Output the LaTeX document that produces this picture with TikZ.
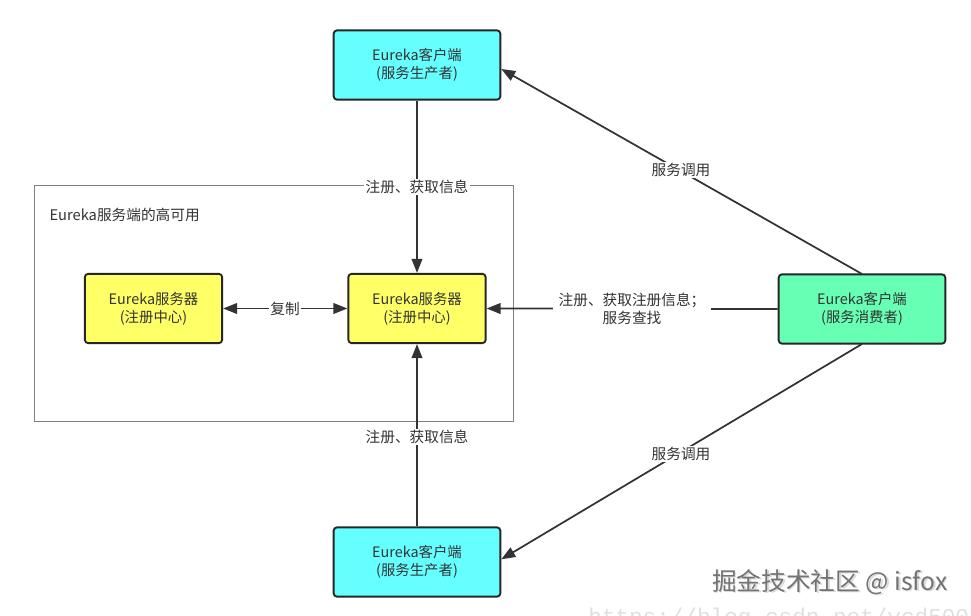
\documentclass[tikz,border=0pt]{standalone}
\usepackage{fontspec}
\setmainfont{Noto Sans CJK SC}
\newfontfamily\urlfont{Liberation Mono}
\usetikzlibrary{arrows.meta}
\definecolor{cyanbox}{HTML}{66FFFF}
\definecolor{greenbox}{HTML}{66FFB3}
\definecolor{yellowbox}{HTML}{FFFF66}
\definecolor{linegray}{HTML}{333333}
\begin{document}
\begin{tikzpicture}[x=0.75pt,y=-0.75pt,
  box/.style={draw=black!85, line width=1.4pt, rounded corners=2.5pt, minimum width=125pt, minimum height=52pt, align=center, font=\fontsize{10.8}{13.5}\selectfont, text=black!80},
  ybox/.style={box, fill=yellowbox, minimum width=103pt},
  conn/.style={draw=linegray, line width=1.3pt, -{Triangle[length=10.5pt,width=8pt]}},
  lbl/.style={fill=white, inner sep=1pt, font=\fontsize{11}{13.5}\selectfont, text=black!80, align=center}]
\useasboundingbox (0,0) rectangle (971,616);
\fill[white] (0,0) rectangle (971,616);
% group frame
\draw[draw=black!50, line width=0.7pt] (34,185) rectangle (513,421);
\node[anchor=west, font=\fontsize{11}{13.5}\selectfont, text=black!80, inner sep=1pt] (grp) at (48,215) {Eureka服务端的高可用};
% boxes
\node[box, fill=cyanbox] (top) at (417,65) {Eureka客户端\\(服务生产者)};
\node[box, fill=cyanbox] (bot) at (417,562) {Eureka客户端\\(服务生产者)};
\node[box, fill=greenbox] (cons) at (862,309) {Eureka客户端\\(服务消费者)};
\node[ybox] (mid) at (417,308.5) {Eureka服务器\\(注册中心)};
\node[ybox] (left) at (153.5,308.5) {Eureka服务器\\(注册中心)};
% connectors
\draw[conn] (top.south) -- (mid.north);
\node[lbl] (l1t) at (417,187) {注册、获取信息};
\draw[conn] (bot.north) -- (mid.south);
\node[lbl] (l2t) at (417,437) {注册、获取信息};
\draw[conn] (cons.west) -- (mid.east);
\node[lbl, inner xsep=4pt] (l3t) at (632,309) {注册、获取注册信息；\\服务查找};
\draw[conn, {Triangle[length=10.5pt,width=8pt]}-{Triangle[length=10.5pt,width=8pt]}] (left.east) -- (mid.west);
\node[lbl] (l4t) at (285,309) {复制};
\coordinate (ct) at (862,274);
\coordinate (cb) at (862,344);
\draw[conn] (ct) -- ([yshift=-3pt]top.east);
\node[lbl] (l5t) at (681,170) {服务调用};
\draw[conn] (cb) -- ([yshift=2pt]bot.east);
\node[lbl] (l6t) at (681,454) {服务调用};
% watermark
\node[anchor=west, font=\fontsize{18.5}{22}\selectfont, text=black!15, inner sep=0pt] (wm0) at (713.5,583.5) {掘金技术社区 @ isfox};
\node[anchor=west, font=\fontsize{18.5}{22}\selectfont, text=black!55, inner sep=0pt] (wm) at (712,582) {掘金技术社区 @ isfox};
\begin{scope}
\clip (0,0) rectangle (971,616);
\node[anchor=base west, font=\urlfont\fontsize{17}{20}\selectfont, text=black!12, inner sep=0pt] (url) at (588,624) {https://blog.csdn.net/ycd50075};
\end{scope}
\end{tikzpicture}
\end{document}
